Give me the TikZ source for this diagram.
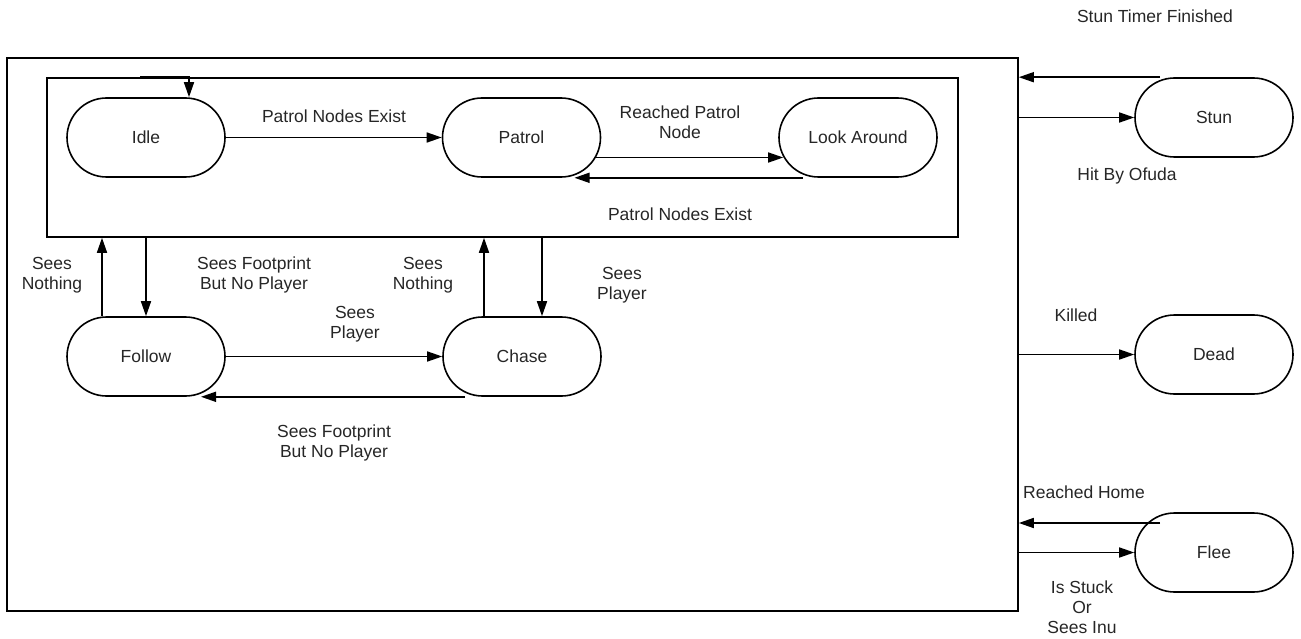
\documentclass[tikz,border=0pt]{standalone}
\usepackage{fontspec}
\setmainfont{Liberation Sans}
\usetikzlibrary{shapes.misc,arrows.meta}

\begin{document}
\begin{tikzpicture}[x=1pt, y=-1pt, >={Triangle[length=15pt,width=10pt]},
    line width=1.6pt, font=\fontsize{17.5}{20}\selectfont,
    state/.style={draw, rounded rectangle, minimum width=158pt,
      minimum height=79pt, inner sep=0pt, text=black!85},
    frame/.style={draw, inner sep=0pt},
    lbl/.style={align=center, text=black!85}]
  \useasboundingbox (0,0) rectangle (1301,639);

  % Enclosing boxes
  \node[frame, minimum width=1011pt, minimum height=553pt] (outer) at (512.5,334.5) {};
  \node[frame, minimum width=911pt, minimum height=159pt] (inner) at (502.5,157.5) {};

  % States
  \node[state] (idle)   at (146,137.5) {Idle};
  \node[state] (patrol) at (521.5,137.5) {Patrol};
  \node[state] (look)   at (858,137.5) {Look Around};
  \node[state] (follow) at (146,356.5) {Follow};
  \node[state] (chase)  at (522,356.5) {Chase};
  \node[state] (stun)   at (1214,117.5) {Stun};
  \node[state] (dead)   at (1214,354.5) {Dead};
  \node[state] (flee)   at (1214,552.5) {Flee};

  % Patrol loop
  \draw[->] ([xshift=-6pt]idle.north |- inner.north) -| ([xshift=43pt]idle.north);
  \draw[->] (idle.east) -- (patrol.west);
  \draw[->] ([xshift=-5pt,yshift=-20pt]patrol.east) -- ([xshift=5pt,yshift=-20pt]look.west);
  \draw[->] ([xshift=-55pt]look.south) -- ([xshift=53pt]patrol.south);

  % Follow / chase
  \draw[->] ([xshift=-44pt]follow.north) -- ([xshift=-44pt]follow.north |- inner.south);
  \draw[->] (follow.north |- inner.south) -- (follow.north);
  \draw[->] ([xshift=-38pt]chase.north) -- ([xshift=-38pt]chase.north |- inner.south);
  \draw[->] ([xshift=20pt]chase.north |- inner.south) -- ([xshift=20pt]chase.north);
  \draw[->] (follow.east) -- (chase.west);
  \draw[->] ([xshift=-57pt]chase.south) -- ([xshift=55pt]follow.south);

  % Outside states
  \coordinate (stun-back) at ([xshift=-54pt]stun.north);
  \coordinate (flee-back) at ([xshift=26pt,yshift=29.5pt]flee.west);
  \draw[->] (stun-back) -- (stun-back -| outer.east);
  \draw[->] (stun.west -| outer.east) -- (stun.west);
  \draw[->] (dead.west -| outer.east) -- (dead.west);
  \draw[->] (flee-back) -- (flee-back -| outer.east);
  \draw[->] (flee.west -| outer.east) -- (flee.west);

  % Labels
  \node[lbl] (l-exist)    at (334,116) {Patrol Nodes Exist};
  \node[lbl] (l-reached)  at (680,122) {Reached Patrol\\Node};
  \node[lbl] (l-exist2)   at (680,214) {Patrol Nodes Exist};
  \node[lbl] (l-nothing)  at (52,275)  {Sees\\Nothing};
  \node[lbl] (l-foot)     at (254,275) {Sees Footprint\\But No Player};
  \node[lbl] (l-nothing2) at (423,275) {Sees\\Nothing};
  \node[lbl] (l-player)   at (622,285) {Sees\\Player};
  \node[lbl] (l-player2)  at (355,324) {Sees\\Player};
  \node[lbl] (l-foot2)    at (334,443) {Sees Footprint\\But No Player};
  \node[lbl] (l-timer)    at (1155,16) {Stun Timer Finished};
  \node[lbl] (l-ofuda)    at (1127,176) {Hit By Ofuda};
  \node[lbl] (l-killed)   at (1076,315) {Killed};
  \node[lbl] (l-home)     at (1084,492) {Reached Home};
  \node[lbl] (l-stuck)    at (1082,607) {Is Stuck\\Or\\Sees Inu};
\end{tikzpicture}
\end{document}
